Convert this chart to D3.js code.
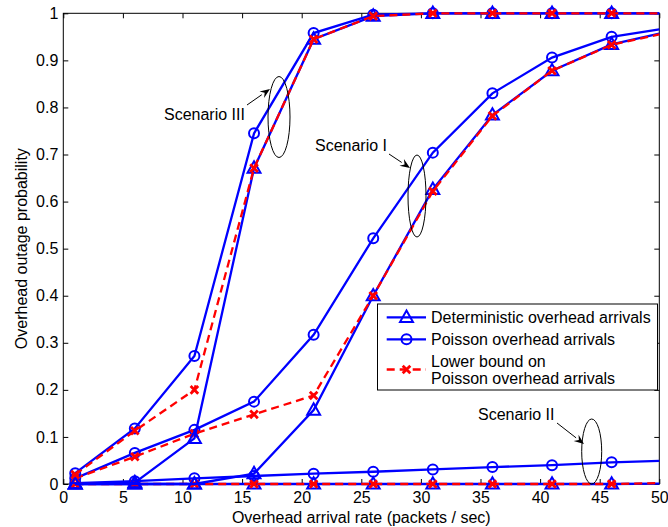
<!DOCTYPE html>
<html><head><meta charset="utf-8">
<script src="https://cdn.jsdelivr.net/npm/d3@7"></script>
<style>
html,body{margin:0;padding:0;background:#fff;}
svg{display:block;font-family:"Liberation Sans",Arial,Helvetica,sans-serif;}
</style></head>
<body>
<svg id="chart" width="668" height="527"></svg>
<script>
// ---- data ----
const arrivalRates = [1, 6, 11, 16, 21, 26, 31, 36, 41, 46, 50];
const xTicks = [0, 5, 10, 15, 20, 25, 30, 35, 40, 45, 50];
const yTicks = [0, 0.1, 0.2, 0.3, 0.4, 0.5, 0.6, 0.7, 0.8, 0.9, 1];
const yTickLabels = ["0", "0.1", "0.2", "0.3", "0.4", "0.5", "0.6", "0.7", "0.8", "0.9", "1"];

// Scenario I
const detI = [0, 0, 0, 0.022, 0.157, 0.400, 0.626, 0.784, 0.878, 0.934, 0.957];
const poiI = [0.012, 0.066, 0.115, 0.175, 0.317, 0.522, 0.704, 0.830, 0.906, 0.950, 0.966];
const lbI  = [0.012, 0.058, 0.107, 0.148, 0.188, 0.400, 0.622, 0.782, 0.878, 0.933, 0.955];
// Scenario II
const detII = [0, 0, 0, 0, 0, 0, 0, 0, 0, 0, 0.001];
const poiII = [0.002, 0.006, 0.012, 0.017, 0.022, 0.026, 0.031, 0.036, 0.040, 0.046, 0.049];
const lbII  = [0, 0, 0, 0, 0, 0, 0, 0, 0, 0, 0.002];
// Scenario III
const detIII = [0, 0.003, 0.097, 0.671, 0.945, 0.994, 1, 1, 1, 1, 1];
const poiIII = [0.023, 0.118, 0.272, 0.745, 0.958, 0.997, 1, 1, 1, 1, 1];
const lbIII  = [0.020, 0.113, 0.200, 0.671, 0.945, 0.994, 1, 1, 1, 1, 1];

const legendLabels = [["Deterministic overhead arrivals"], ["Poisson overhead arrivals"], ["Lower bound on", "Poisson overhead arrivals"]];
const scenarioLabels = ["Scenario III", "Scenario I", "Scenario II"];

// ---- layout ----
const L = 63.3, R = 659.3, T = 13.3, B = 484;
const svg = d3.select("#chart");
const x = d3.scaleLinear().domain([0, 50]).range([L, R]);
const y = d3.scaleLinear().domain([0, 1]).range([B, T]);
const BLUE = "#0000ff", RED = "#ff0000";
const FONT = "Liberation Sans, Arial, sans-serif";

// axes box + ticks
const g = svg.append("g");
g.append("g").attr("transform", `translate(0,${B})`)
  .call(d3.axisBottom(x).tickValues(xTicks).tickSizeInner(-5).tickSizeOuter(0).tickPadding(8).tickFormat(d3.format("d")))
  .call(s => { s.select(".domain").remove(); s.selectAll("text").attr("font-size", 16).attr("fill", "#000").attr("font-family", FONT); s.selectAll("line").attr("stroke", "#000"); });
g.append("g").attr("transform", `translate(0,${T})`)
  .call(d3.axisTop(x).tickValues(xTicks).tickSizeInner(-5).tickSizeOuter(0).tickFormat(""))
  .call(s => { s.select(".domain").remove(); s.selectAll("line").attr("stroke", "#000"); });
g.append("g").attr("transform", `translate(${L},0)`)
  .call(d3.axisLeft(y).tickValues(yTicks).tickSizeInner(-5).tickSizeOuter(0).tickPadding(5).tickFormat((d, i) => yTickLabels[i]))
  .call(s => { s.select(".domain").remove(); s.selectAll("text").attr("font-size", 16).attr("fill", "#000").attr("font-family", FONT); s.selectAll("line").attr("stroke", "#000"); });
g.append("g").attr("transform", `translate(${R},0)`)
  .call(d3.axisRight(y).tickValues(yTicks).tickSizeInner(-5).tickSizeOuter(0).tickFormat(""))
  .call(s => { s.select(".domain").remove(); s.selectAll("line").attr("stroke", "#000"); });
g.append("rect").attr("x", L).attr("y", T).attr("width", R - L).attr("height", B - T)
  .attr("fill", "none").attr("stroke", "#000").attr("stroke-width", 1);

// labels
svg.append("text").attr("x", (L + R) / 2).attr("y", 523).attr("text-anchor", "middle")
  .attr("font-size", 16).text("Overhead arrival rate (packets / sec)");
svg.append("text").attr("transform", `translate(27,${(T + B) / 2}) rotate(-90)`).attr("text-anchor", "middle")
  .attr("font-size", 16).text("Overhead outage probability");

// ---- series ----
const line = d3.line().x((d, i) => x(arrivalRates[i])).y(d => y(d));
const plot = svg.append("g");
const triPath = (s) => `M0,${-s}L${s * 0.95},${s * 0.68}L${-s * 0.95},${s * 0.68}Z`;

function drawTri(sel, cx, cy) {
  sel.append("path").attr("d", triPath(6.8)).attr("transform", `translate(${cx},${cy})`)
    .attr("fill", "none").attr("stroke", BLUE).attr("stroke-width", 2);
}
function drawCirc(sel, cx, cy) {
  sel.append("circle").attr("cx", cx).attr("cy", cy).attr("r", 5)
    .attr("fill", "none").attr("stroke", BLUE).attr("stroke-width", 2);
}
function drawX(sel, cx, cy) {
  const s = 3.8;
  sel.append("path").attr("d", `M${cx - s},${cy - s}L${cx + s},${cy + s}M${cx - s},${cy + s}L${cx + s},${cy - s}`)
    .attr("stroke", RED).attr("stroke-width", 2.8).attr("fill", "none");
}
function series(vals, kind) {
  const gg = plot.append("g");
  const isLB = kind === "x";
  gg.append("path").attr("d", line(vals)).attr("fill", "none")
    .attr("stroke", isLB ? RED : BLUE).attr("stroke-width", 2.3)
    .attr("stroke-dasharray", isLB ? "8,5" : null);
  vals.forEach((v, i) => {
    if (arrivalRates[i] === 50) return;
    const cx = x(arrivalRates[i]), cy = y(v);
    if (kind === "tri") drawTri(gg, cx, cy);
    else if (kind === "circ") drawCirc(gg, cx, cy);
    else drawX(gg, cx, cy);
  });
}
series(detII, "tri"); series(poiII, "circ"); series(lbII, "x");
series(detI, "tri"); series(poiI, "circ"); series(lbI, "x");
series(detIII, "tri"); series(poiIII, "circ"); series(lbIII, "x");

// ---- annotations ----
const ann = svg.append("g");
function arrow(x1, y1, x2, y2) {
  const a = Math.atan2(y2 - y1, x2 - x1), h = 10, w = 4;
  const bx = x2 - h * Math.cos(a), by = y2 - h * Math.sin(a);
  ann.append("line").attr("x1", x1).attr("y1", y1).attr("x2", bx).attr("y2", by).attr("stroke", "#000").attr("stroke-width", 1);
  ann.append("path").attr("d", `M${x2},${y2}L${bx + w * Math.sin(a)},${by - w * Math.cos(a)}L${bx + 0.35 * h * Math.cos(a)},${by + 0.35 * h * Math.sin(a)}L${bx - w * Math.sin(a)},${by + w * Math.cos(a)}Z`).attr("fill", "#000");
}
function ellipse(cx, cy, rx, ry) {
  ann.append("ellipse").attr("cx", cx).attr("cy", cy).attr("rx", rx).attr("ry", ry)
    .attr("fill", "none").attr("stroke", "#000").attr("stroke-width", 1);
}
ann.append("text").attr("x", 164).attr("y", 120).attr("font-size", 16).text(scenarioLabels[0]);
arrow(247, 105, 270, 89); ellipse(279, 117, 11, 40.5);
ann.append("text").attr("x", 315).attr("y", 150.5).attr("font-size", 16).text(scenarioLabels[1]);
arrow(389, 154, 410, 168); ellipse(417, 196, 9, 41);
ann.append("text").attr("x", 478).attr("y", 420).attr("font-size", 16).text(scenarioLabels[2]);
arrow(557, 423, 584, 444); ellipse(591.7, 451.5, 10, 32.5);

// ---- legend ----
const lg = svg.append("g");
lg.append("rect").attr("x", 377.5).attr("y", 304).attr("width", 280).attr("height", 86)
  .attr("fill", "#fff").attr("stroke", "#000").attr("stroke-width", 1);
const rowsY = [317.3, 339.3, 361];
const kinds = ["tri", "circ", "x"];
rowsY.forEach((ry, i) => {
  const isLB = kinds[i] === "x";
  const cy = isLB ? 369.5 : ry;
  lg.append("line").attr("x1", 386.7).attr("x2", 426).attr("y1", cy).attr("y2", cy)
    .attr("stroke", isLB ? RED : BLUE).attr("stroke-width", 2.3).attr("stroke-dasharray", isLB ? "8,5" : null);
  if (kinds[i] === "tri") drawTri(lg, 406.5, cy);
  else if (kinds[i] === "circ") drawCirc(lg, 406.5, cy);
  else drawX(lg, 406.5, cy);
});
const baselines = [[323], [345], [366.5, 384]];
legendLabels.forEach((lines, i) => {
  lines.forEach((t, j) => {
    lg.append("text").attr("x", 431).attr("y", baselines[i][j]).attr("font-size", 16).text(t);
  });
});
</script>
</body></html>
